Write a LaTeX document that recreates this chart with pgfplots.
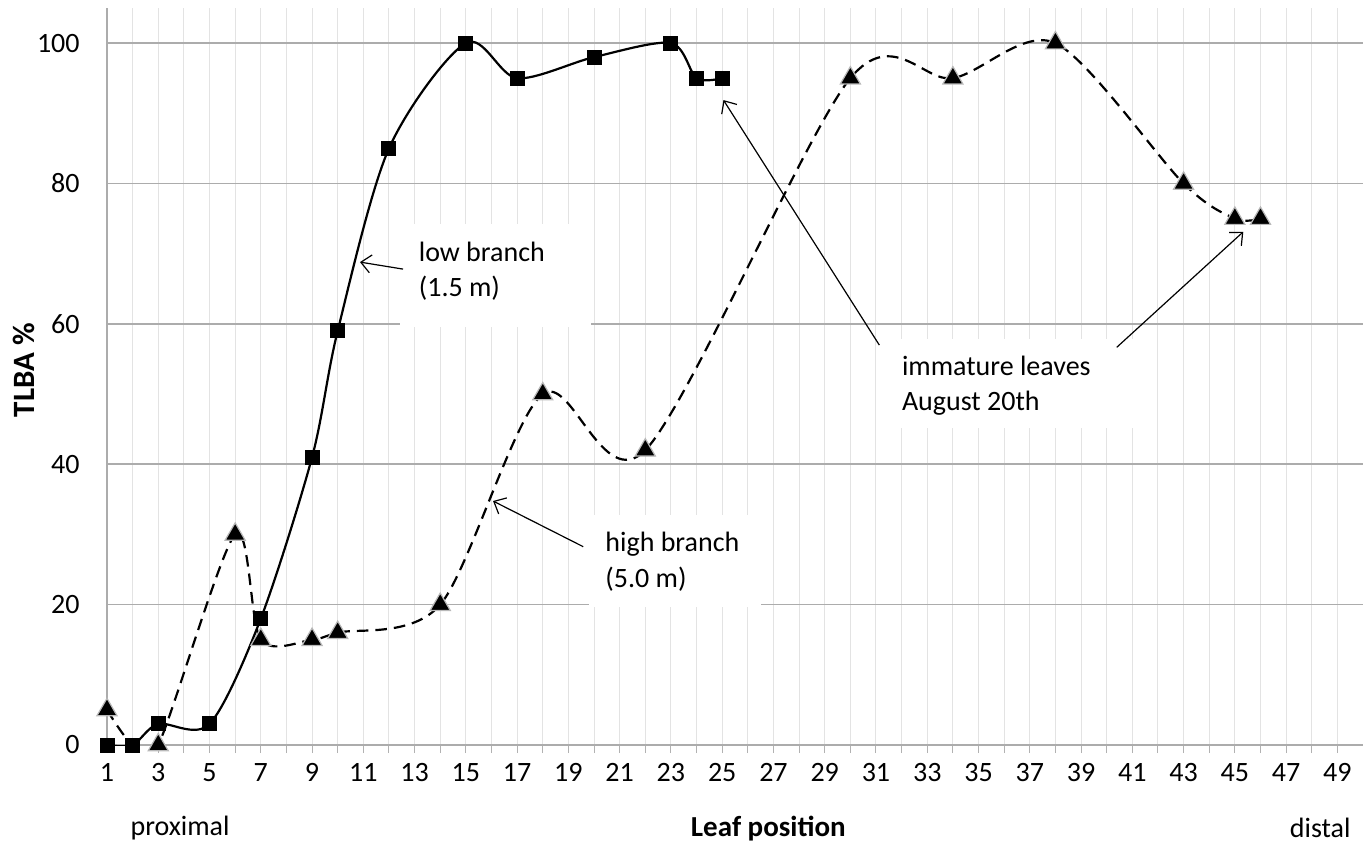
\documentclass[border=0pt]{standalone}
\usepackage{fontspec}
\setmainfont{Carlito}
\usepackage{pgfplots}
\pgfplotsset{compat=1.18}
\usetikzlibrary{arrows.meta}
\newcommand{\fs}{\fontsize{14}{17}\selectfont}

\begin{document}
\begin{tikzpicture}
\begin{axis}[
  scale only axis, width=628pt, height=368.5pt,
  xmin=1, xmax=50, ymin=0, ymax=105,
  clip=true,
  axis lines=left,
  axis line style={draw=gray!65, line width=0.8pt, -},
  xtick={1,...,50},
  xticklabels={1,,3,,5,,7,,9,,11,,13,,15,,17,,19,,21,,23,,25,,27,,29,,31,,33,,35,,37,,39,,41,,43,,45,,47,,49,},
  ytick={0,20,...,100},
  grid=major,
  x grid style={draw=gray!22, line width=0.5pt},
  y grid style={draw=gray!65, line width=0.8pt},
  tick align=outside, major tick length=4pt,
  xtick style={draw=gray!60, line width=0.5pt},
  ytick style={draw=none},
  tick label style={font=\fs, inner sep=0pt},
  xticklabel style={anchor=base, yshift=-14.4pt},
  yticklabel style={anchor=east, xshift=-9.5pt},
  /pgf/number format/assume math mode=true,
]
\coordinate (O) at (rel axis cs:0,0);
\coordinate (TR) at (rel axis cs:1,1);
\coordinate (ylab) at (axis cs:1,53.4);
\coordinate (xlab) at (axis cs:26.8,0);
\coordinate (prox) at (axis cs:3.85,0);
\coordinate (dist) at (axis cs:48.33,0);

% white text boxes masking the grid
\fill[white] (axis cs:12.45,59.5) rectangle (axis cs:19.87,74.2);
\fill[white] (axis cs:19.8,19.7) rectangle (axis cs:26.5,32.8);
\fill[white] (axis cs:31.2,45.2) rectangle (axis cs:41.35,57.8);

% high branch (5.0 m)
\addplot[black, line width=1.1pt, smooth, dash pattern=on 5.8pt off 3.5pt,
  mark=triangle*, mark size=5.8pt,
  mark indices={1,3,4,5,6,7,8,9,10,11,12,13,14,15,16},
  mark options={solid, fill=black, draw=gray!55, line width=0.6pt}]
  coordinates {(1,5)(2,0)(3,0)(6,30)(7,15)(9,15)(10,16)(14,20)(18,50)(22,42)(30,95)(34,95)(38,100)(43,80)(45,75)(46,75)};

% low branch (1.5 m)
\addplot[black, line width=1.1pt, smooth,
  mark=square*, mark size=3.2pt, mark options={solid, fill=black}]
  coordinates {(1,0)(2,0)(3,3)(5,3)(7,18)(9,41)(10,59)(12,85)(15,100)(17,95)(20,98)(23,100)(24,95)(25,95)};

% annotations
\node[anchor=base west, font=\fs, inner sep=0pt] at (axis cs:13.15,68.85) {low branch};
\node[anchor=base west, font=\fs, inner sep=0pt] at (axis cs:13.15,63.86) {(1.5 m)};
\node[anchor=base west, font=\fs, inner sep=0pt] at (axis cs:20.43,27.54) {high branch};
\node[anchor=base west, font=\fs, inner sep=0pt] at (axis cs:20.43,22.46) {(5.0 m)};
\node[anchor=base west, font=\fs, inner sep=0pt] at (axis cs:32.0,52.7) {immature leaves};
\node[anchor=base west, font=\fs, inner sep=0pt] at (axis cs:32.0,47.7) {August 20th};

\draw[line width=0.6pt, -{Straight Barb[length=5pt,width=9pt]}] (axis cs:12.55,67.8) -- (axis cs:10.87,68.8);
\draw[line width=0.6pt, -{Straight Barb[length=5pt,width=9pt]}] (axis cs:19.58,28.25) -- (axis cs:16.06,34.76);
\draw[line width=0.6pt, -{Straight Barb[length=5pt,width=9pt]}] (axis cs:31.13,56.98) -- (axis cs:25.05,91.88);
\draw[line width=0.6pt, -{Straight Barb[length=5pt,width=9pt]}] (axis cs:40.39,56.65) -- (axis cs:45.33,73.12);
\end{axis}

% axis labels
\node[rotate=90, font=\fontsize{15.5}{18}\selectfont\bfseries] at ([xshift=-41.5pt]ylab) {TLBA \%};
\node[font=\fontsize{14.5}{17}\selectfont\bfseries] at ([yshift=-42pt]xlab) {Leaf position};
\node[font=\fs] at ([yshift=-41.5pt]prox) {proximal};
\node[font=\fs] at ([yshift=-41.5pt]dist) {distal};

\pgfresetboundingbox
\path[use as bounding box] ([xshift=-53.5pt, yshift=-51pt]O) rectangle ([yshift=4pt]TR);
\end{tikzpicture}
\end{document}
